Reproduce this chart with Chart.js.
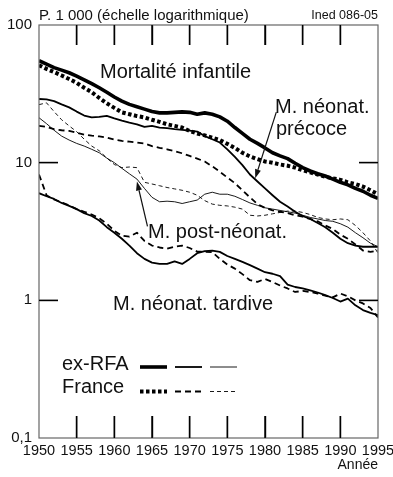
<!DOCTYPE html>
<html>
<head>
<meta charset="utf-8">
<script src="https://cdn.jsdelivr.net/npm/chart.js@4.4.1/dist/chart.umd.min.js"></script>
<style>
  html, body { margin: 0; padding: 0; background: #fff; }
  #wrap { width: 393px; height: 477px; position: relative; }
</style>
</head>
<body>
<div id="wrap"><canvas id="c" width="393" height="477"></canvas></div>
<script>
// ---- Data (per mille, log scale) ----
const years = [1950,1951,1952,1953,1954,1955,1956,1957,1958,1959,
               1960,1961,1962,1963,1964,1965,1966,1967,1968,1969,
               1970,1971,1972,1973,1974,1975,1976,1977,1978,1979,
               1980,1981,1982,1983,1984,1985,1986,1987,1988,1989,
               1990,1991,1992,1993,1994,1995];

// Mortalité infantile
const infantRFA = [55,52,49,47,45,42.5,40,37.5,35,32.5,
                   30,28,26.5,25.5,24.5,23.5,23,23,23.2,23.4,
                   23.2,22.5,23,22.5,21.5,20,18,16.3,14.8,13.8,
                   12.8,11.8,11.2,10.7,9.9,9.2,8.7,8.3,8.0,7.6,
                   7.2,6.9,6.5,6.2,5.8,5.5];
const infantFR  = [51,48,45.5,43,40.5,38,35,32.5,29.5,27,
                   25,23.2,22.5,21.8,21.3,20.5,19.8,19,18.5,18,
                   17,16.3,15.8,15.2,14.6,13.7,12.8,11.8,11.1,10.6,
                   10.2,10.0,9.7,9.5,9.2,8.8,8.5,8.2,7.9,7.7,
                   7.5,7.2,7.0,6.7,6.3,5.9];
// Mortalité néonatale précoce
const earlyRFA  = [29,28.8,28,26.5,25.2,23.5,22,21.3,21.5,21.9,
                   21,20.2,19.5,19,18.2,18.5,18,17.8,17.5,17.3,
                   17.1,16.8,15.6,14.8,14.0,12.5,11.0,9.6,8.2,7.3,
                   6.5,5.8,5.2,4.8,4.4,4.1,3.9,3.65,3.4,3.1,
                   2.8,2.6,2.5,2.45,2.45,2.45];
const earlyFR   = [18.5,18.2,17.5,17.2,17,16.5,16,15.7,15.5,15.2,
                   14.7,14.4,14.2,14.0,13.8,13.2,12.8,12.5,12.1,11.7,
                   11.2,10.7,10.2,9.4,8.6,7.8,7.1,6.3,5.6,5.0,
                   4.7,4.5,4.4,4.3,4.15,4.05,3.9,3.75,3.5,3.3,
                   3.0,2.8,2.55,2.3,2.25,2.3];
// Mortalité post-néonatale
const postRFA   = [21.2,19.2,17.2,15.6,14.6,13.8,13.2,12.5,11.8,10.8,
                   10,9.1,8.3,7.6,6.5,5.6,5.2,5.25,5.2,5.05,
                   5.2,5.35,5.9,6.1,5.9,5.9,5.7,5.4,5.1,4.9,
                   4.7,4.6,4.5,4.4,4.3,4.15,4.0,3.9,3.8,3.75,
                   3.6,3.4,3.1,2.85,2.6,2.45];
const postFR    = [26.4,27.2,23.5,20.5,18.5,16.8,14.8,13.2,12.2,10.8,
                   9.7,9.2,9.3,9.2,7.2,7.0,6.8,6.6,6.45,6.3,
                   6.1,5.8,5.3,5.0,4.9,4.85,4.75,4.6,4.15,4.1,
                   4.15,4.25,4.35,4.45,4.45,4.35,4.2,4.0,3.9,3.85,
                   3.9,3.85,3.5,3.1,2.7,2.2];
// Mortalité néonatale tardive
const lateRFA   = [6.0,5.7,5.45,5.1,4.85,4.6,4.3,4.1,3.8,3.4,
                   3.1,2.8,2.5,2.2,2.0,1.88,1.84,1.84,1.92,1.84,
                   2.0,2.2,2.28,2.3,2.25,2.1,2.0,1.9,1.8,1.7,
                   1.6,1.56,1.5,1.3,1.25,1.22,1.18,1.14,1.09,1.04,
                   0.98,1.03,0.92,0.85,0.81,0.78];
const lateFR    = [8.2,5.8,5.4,5.15,4.9,4.6,4.4,4.2,3.95,3.6,
                   3.2,2.95,2.9,3.1,2.7,2.5,2.42,2.37,2.45,2.5,
                   2.4,2.26,2.25,2.24,2.0,1.82,1.7,1.55,1.4,1.36,
                   1.43,1.36,1.28,1.22,1.15,1.17,1.15,1.12,1.08,1.05,
                   1.12,1.07,1.0,0.95,0.88,0.75];

const xTickYears  = [1950,1955,1960,1965,1970,1975,1980,1985,1990,1995];
const xInnerTicks = [1955,1960,1965,1970,1975,1980,1985,1990];
const yTickValues = [0.1, 1, 10, 100];
const yTickLabels = ['0,1', '1', '10', '100'];
const yInnerTicks = [1, 10];

// ---- Styles ----
const INK = '#111';
const FONT = "'Liberation Sans', Arial, Helvetica, sans-serif";
const styles = {
  thickSolid:  { borderWidth: 3.6, borderDash: [] },
  thickDotted: { borderWidth: 4,   borderDash: [3.5, 2.5] },
  medSolid:    { borderWidth: 1.8, borderDash: [] },
  medDashed:   { borderWidth: 1.8, borderDash: [6, 4] },
  thinSolid:   { borderWidth: 0.9, borderDash: [] },
  thinDashed:  { borderWidth: 0.9, borderDash: [4, 3] }
};

function series(label, values, style) {
  return Object.assign({
    label,
    xAxisID: 'x',
    yAxisID: 'y',
    data: years.map((yr, i) => ({ x: yr, y: values[i] })),
    borderColor: '#000',
    backgroundColor: '#000',
    pointRadius: 0,
    tension: 0,
    fill: false,
    borderCapStyle: 'butt',
    borderJoinStyle: 'round'
  }, style);
}

const datasets = [
  series('Infantile ex-RFA', infantRFA, styles.thickSolid),
  series('Infantile France', infantFR, styles.thickDotted),
  series('Néonat. précoce ex-RFA', earlyRFA, styles.medSolid),
  series('Néonat. précoce France', earlyFR, styles.medDashed),
  series('Post-néonat. ex-RFA', postRFA, styles.thinSolid),
  series('Post-néonat. France', postFR, styles.thinDashed),
  series('Néonat. tardive ex-RFA', lateRFA, styles.medSolid),
  series('Néonat. tardive France', lateFR, styles.medDashed)
];

function drawArrow(ctx, x1, y1, x2, y2) {
  const ang = Math.atan2(y2 - y1, x2 - x1);
  const L = 9, W = 3;
  const bx = x2 - L * Math.cos(ang), by = y2 - L * Math.sin(ang);
  ctx.beginPath();
  ctx.moveTo(x1, y1); ctx.lineTo(bx, by); ctx.stroke();
  ctx.beginPath();
  ctx.moveTo(x2, y2);
  ctx.lineTo(bx + W * Math.sin(ang), by - W * Math.cos(ang));
  ctx.lineTo(bx - W * Math.sin(ang), by + W * Math.cos(ang));
  ctx.closePath(); ctx.fill();
}

// Frame + inner tick marks (backup to the native inward ticks)
const frameTicks = {
  id: 'frameTicks',
  afterDraw(chart) {
    const ctx = chart.ctx;
    const a = chart.chartArea;
    const xs = chart.scales.x, ys = chart.scales.y;
    ctx.save();
    ctx.setLineDash([]);
    ctx.strokeStyle = '#666'; ctx.lineWidth = 1.2;
    ctx.strokeRect(a.left, a.top, a.right - a.left, a.bottom - a.top);
    ctx.lineWidth = 1.4;
    ctx.strokeStyle = '#000';
    ctx.beginPath();
    xInnerTicks.forEach(v => {
      const px = xs.getPixelForValue(v);
      ctx.moveTo(px, a.top); ctx.lineTo(px, a.top + 20);
      ctx.moveTo(px, a.bottom); ctx.lineTo(px, a.bottom - 22);
    });
    yInnerTicks.forEach(v => {
      const py = ys.getPixelForValue(v);
      ctx.moveTo(a.left, py); ctx.lineTo(a.left + 19, py);
      ctx.moveTo(a.right, py); ctx.lineTo(a.right - 19, py);
    });
    ctx.stroke();
    ctx.restore();
  }
};

const annotations = {
  id: 'annotations',
  afterDraw(chart) {
    const ctx = chart.ctx;
    const a = chart.chartArea;
    const xs = chart.scales.x, ys = chart.scales.y;
    ctx.save();
    ctx.fillStyle = INK;
    ctx.strokeStyle = INK;
    ctx.textBaseline = 'alphabetic';
    ctx.textAlign = 'left';
    ctx.font = '15px ' + FONT;
    ctx.fillText('P. 1 000 (échelle logarithmique)', a.left, 20);
    ctx.textAlign = 'right';
    ctx.font = '12.5px ' + FONT;
    ctx.fillText('Ined 086-05', a.right, 19);

    ctx.textAlign = 'left';
    ctx.font = '20px ' + FONT;
    ctx.fillText('Mortalité infantile', 100, 78);
    ctx.fillText('M. néonat.', 275, 113);
    ctx.fillText('précoce', 276, 135);
    ctx.fillText('M. post-néonat.', 148, 238);
    ctx.fillText('M. néonat. tardive', 113, 310);

    ctx.lineWidth = 1.2;
    drawArrow(ctx, xs.getPixelForValue(1981.5), ys.getPixelForValue(23.3),
                   xs.getPixelForValue(1978.7), ys.getPixelForValue(7.7));
    drawArrow(ctx, xs.getPixelForValue(1964.4), ys.getPixelForValue(3.45),
                   xs.getPixelForValue(1963.0), ys.getPixelForValue(7.3));

    ctx.fillText('ex-RFA', 62, 370);
    ctx.fillText('France', 62, 393);
    const rows = [
      { yy: 367, ds: [0, 2, 4] },
      { yy: 391.5, ds: [1, 3, 5] }
    ];
    const segs = [[140, 167], [175, 202], [210, 237]];
    ctx.strokeStyle = '#000';
    rows.forEach(r => {
      r.ds.forEach((di, k) => {
        const d = chart.data.datasets[di];
        ctx.lineWidth = d.borderWidth;
        ctx.setLineDash(d.borderDash || []);
        ctx.lineCap = 'butt';
        ctx.beginPath();
        ctx.moveTo(segs[k][0], r.yy); ctx.lineTo(segs[k][1], r.yy);
        ctx.stroke();
      });
    });
    ctx.restore();
  }
};

// Native inward tick marks via negative tickLength
function innerGrid(len, keep) {
  return {
    display: true, drawOnChartArea: false, drawTicks: true,
    tickLength: -len, tickWidth: 1.4,
    tickColor: ctx => (keep.includes(ctx.tick && ctx.tick.value) ? '#000' : 'rgba(0,0,0,0)')
  };
}

new Chart(document.getElementById('c'), {
  type: 'line',
  data: { datasets },
  options: {
    responsive: false,
    animation: false,
    devicePixelRatio: 1,
    layout: { padding: { top: 25, right: 15, left: 0, bottom: 0 } },
    plugins: { legend: { display: false }, tooltip: { enabled: false } },
    scales: {
      x: {
        type: 'linear', axis: 'x', position: 'bottom',
        min: 1950, max: 1995,
        afterBuildTicks: s => { s.ticks = xTickYears.map(v => ({ value: v })); },
        afterFit: s => { s.height = 39; s.paddingLeft = 0; s.paddingRight = 0; },
        grid: innerGrid(22, xInnerTicks),
        border: { display: false },
        ticks: {
          autoSkip: false, maxRotation: 0, padding: 26,
          color: INK, font: { family: FONT, size: 14.5 },
          callback: v => String(v)
        },
        title: {
          display: true, text: 'Année', align: 'end', color: INK,
          font: { family: FONT, size: 14 }, padding: { top: 0, bottom: 3 }
        }
      },
      xTop: {
        type: 'linear', axis: 'x', position: 'top',
        min: 1950, max: 1995,
        afterBuildTicks: s => { s.ticks = xTickYears.map(v => ({ value: v })); },
        afterFit: s => { s.height = 0; s.paddingLeft = 0; s.paddingRight = 0; },
        grid: innerGrid(20, xInnerTicks),
        border: { display: false },
        ticks: { display: false }
      },
      y: {
        type: 'logarithmic', axis: 'y', position: 'left',
        min: 0.1, max: 100,
        afterBuildTicks: s => { s.ticks = yTickValues.map(v => ({ value: v })); },
        afterFit: s => { s.width = 39; s.paddingTop = 0; s.paddingBottom = 0; },
        grid: innerGrid(19, yInnerTicks),
        border: { display: false },
        ticks: {
          padding: 26, color: INK, font: { family: FONT, size: 15 },
          callback: v => { const i = yTickValues.indexOf(v); return i >= 0 ? yTickLabels[i] : ''; }
        }
      },
      yRight: {
        type: 'logarithmic', axis: 'y', position: 'right',
        min: 0.1, max: 100,
        afterBuildTicks: s => { s.ticks = yTickValues.map(v => ({ value: v })); },
        afterFit: s => { s.width = 0; s.paddingTop = 0; s.paddingBottom = 0; },
        grid: innerGrid(19, yInnerTicks),
        border: { display: false },
        ticks: { display: false }
      }
    }
  },
  plugins: [frameTicks, annotations]
});
</script>
</body>
</html>
